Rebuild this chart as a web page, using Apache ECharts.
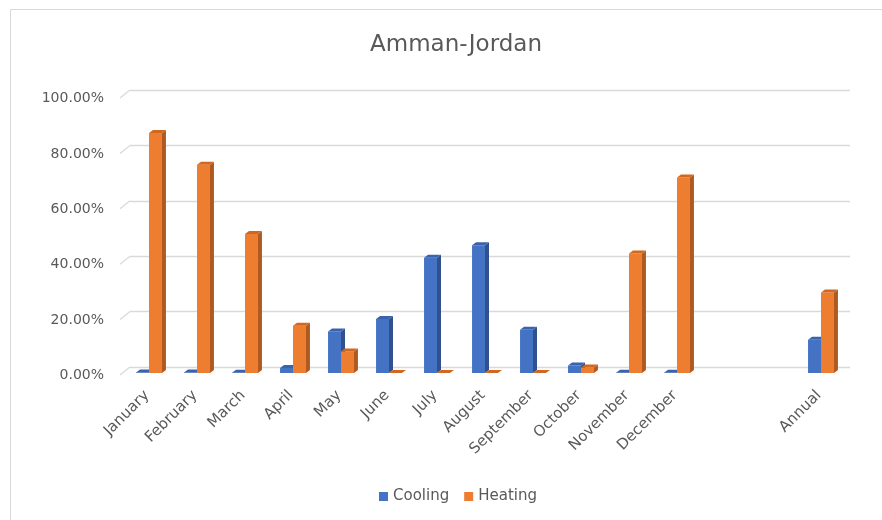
<!DOCTYPE html>
<html>
<head>
<meta charset="utf-8">
<script src="https://cdn.jsdelivr.net/npm/echarts@6/dist/echarts.min.js"></script>
<style>
  html, body { margin: 0; padding: 0; background: #fff; }
  #chart { width: 882px; height: 520px; }
</style>
</head>
<body>
<div id="chart"></div>
<script>
// categories (two empty slots between December and Annual)
const categories = ['January', 'February', 'March', 'April', 'May', 'June', 'July',
  'August', 'September', 'October', 'November', 'December', '', '', 'Annual']
// percent values
const cooling = [0.2, 0.2, 0.1, 1.8, 15.0, 19.5, 41.6, 46.1, 15.6, 2.7, 0.1, 0.1, null, null, 12.0]
const heating = [86.6, 75.2, 50.2, 17.1, 7.8, 0, 0, 0, 0, 2.0, 43.1, 70.6, null, null, 29.1]
const yTicks = [0, 20, 40, 60, 80, 100]

const colors = {
  Cooling: { front: '#4472C4', side: '#2F528F', top: '#3B63AC' },
  Heating: { front: '#ED7D31', side: '#AE5A21', top: '#D0691F' }
}
const textColor = '#595959'
const font = 'DejaVu Sans'

const toData = arr => arr.map((v, i) => (v == null ? null : [i, v])).filter(d => d)

// 3D-ish column: front face + right side + top face
const renderBar = (params, api) => {
  const idx = api.value(0)
  const v = api.value(1)
  const c = colors[params.seriesName]
  const band = api.size([1, 0])[0]
  const w = band * 0.27
  const base = api.coord([idx, 0])
  const top = api.coord([idx, v])
  const xb = base[0] - 1 + (params.seriesName === 'Cooling' ? -w : 0)
  const yb = base[1] + 3
  const yt = top[1] + 3
  const fx = xb - 4
  const fyb = yb + 3
  const fyt = yt + 3
  return {
    type: 'group',
    children: [
      { type: 'rect', shape: { x: fx, y: fyt, width: w, height: fyb - fyt }, style: { fill: c.front } },
      { type: 'polygon', shape: { points: [[fx + w, fyt], [xb + w, yt], [xb + w, yb], [fx + w, fyb]] }, style: { fill: c.side } },
      { type: 'polygon', shape: { points: [[fx, fyt], [xb, yt], [xb + w, yt], [fx + w, fyt]] }, style: { fill: c.top } }
    ]
  }
}

// small slanted edge at the left end of each gridline
const renderEdge = (params, api) => {
  const p = api.coord([0, api.value(1)])
  const x0 = p[0] - api.size([1, 0])[0] / 2
  return {
    type: 'line',
    shape: { x1: x0, y1: p[1], x2: x0 - 10, y2: p[1] + 8 },
    style: { stroke: '#d9d9d9', lineWidth: 1.3 }
  }
}

const chart = echarts.init(document.getElementById('chart'))
chart.setOption({
  animation: false,
  textStyle: { fontFamily: font },
  title: {
    text: 'Amman-Jordan',
    left: 365,
    top: 29,
    textStyle: { fontSize: 23, fontWeight: 'normal', color: textColor, fontFamily: font }
  },
  legend: {
    data: ['Cooling', 'Heating'],
    left: 374,
    top: 484,
    icon: 'rect',
    itemWidth: 9,
    itemHeight: 9,
    itemGap: 15,
    textStyle: { fontSize: 15, color: textColor, fontFamily: font }
  },
  graphic: [{
    type: 'rect',
    shape: { x: 10.5, y: 9.5, width: 900, height: 560 },
    style: { fill: 'none', stroke: '#d9d9d9', lineWidth: 1 },
    silent: true,
    z: -10
  }],
  grid: { left: 130, right: 32, top: 90, bottom: 153 },
  xAxis: {
    type: 'category',
    data: categories,
    axisLine: { show: false },
    axisTick: { show: false },
    axisLabel: {
      interval: 0,
      rotate: 45,
      margin: 19,
      padding: [0, 10, 0, 0],
      fontSize: 15,
      color: textColor,
      fontFamily: font
    }
  },
  yAxis: {
    type: 'value',
    min: 0,
    max: 100,
    interval: 20,
    axisLine: { show: false },
    axisTick: { show: false },
    splitLine: { lineStyle: { color: '#d9d9d9', width: 1.3 } },
    axisLabel: {
      margin: 26,
      verticalAlign: 'top',
      lineHeight: 17,
      fontSize: 14,
      color: textColor,
      fontFamily: font,
      formatter: v => v.toFixed(2) + '%'
    }
  },
  series: [
    {
      name: 'Cooling',
      type: 'custom',
      renderItem: renderBar,
      itemStyle: { color: colors.Cooling.front },
      data: toData(cooling),
      clip: false,
      z: 3
    },
    {
      name: 'Heating',
      type: 'custom',
      renderItem: renderBar,
      itemStyle: { color: colors.Heating.front },
      data: toData(heating),
      clip: false,
      z: 3
    },
    {
      type: 'custom',
      renderItem: renderEdge,
      data: yTicks.map(t => [0, t]),
      silent: true,
      clip: false,
      z: 1
    }
  ]
})
</script>
</body>
</html>
